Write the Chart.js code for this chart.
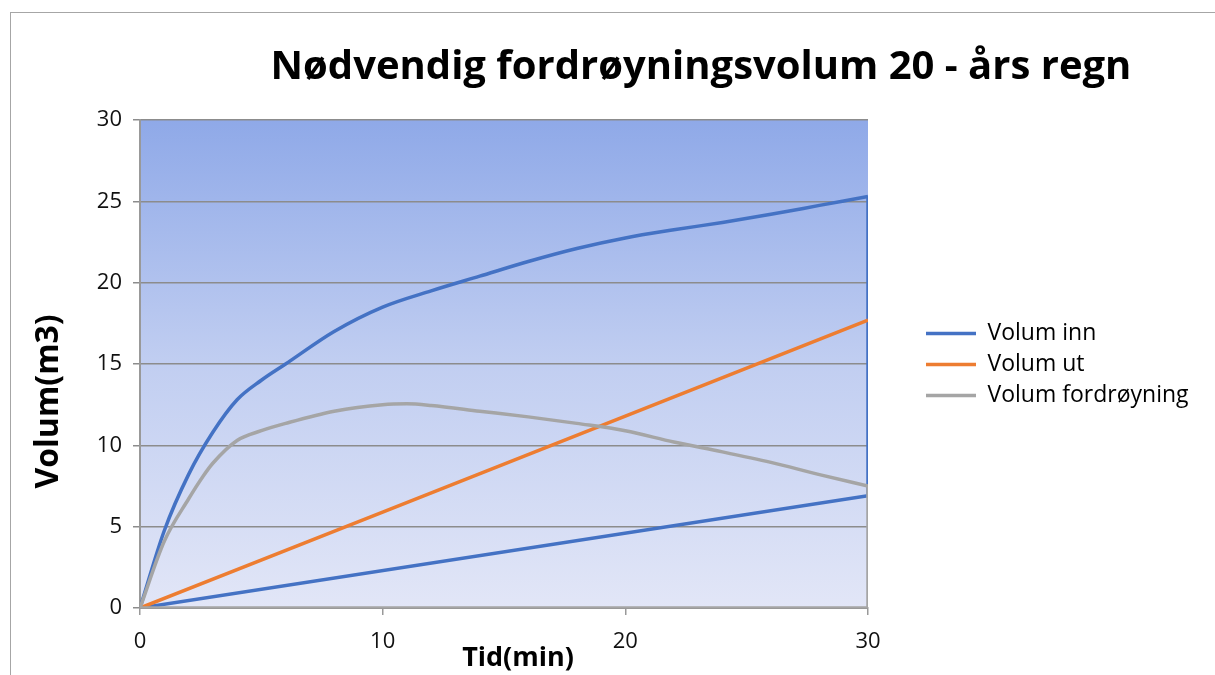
<!DOCTYPE html>
<html>
<head>
<meta charset="utf-8">
<script src="https://cdn.jsdelivr.net/npm/chart.js@4.4.1/dist/chart.umd.min.js"></script>
<style>
  body { margin: 0; background: #fff; }
  #wrap { position: relative; width: 1215px; height: 675px; overflow: hidden; }
  #frame { position: absolute; left: 10px; top: 12px; right: -5px; bottom: -5px;
           border-left: 1px solid #a6a6a6; border-top: 1px solid #a6a6a6; }
  #title { position: absolute; left: 186px; width: 1030px; top: 37px; text-align: center;
           font: bold 40px "Open Sans", sans-serif; line-height: 54px; color: #000; white-space: nowrap; }
  canvas { position: absolute; left: 0; top: 0; }
</style>
</head>
<body>
<div id="wrap">
  <div id="frame"></div>
  <canvas id="chart" width="1215" height="675"></canvas>
  <div id="title">Nødvendig fordrøyningsvolum 20 - års regn</div>
</div>
<script>
var seriesNames = ['Volum inn', 'Volum ut', 'Volum fordrøyning'];
var seriesColors = ['#4472C4', '#ED7D31', '#A5A5A5'];

// tid (min) og volum (m3) lest av figuren
var innT = [0, 1, 2, 3, 4, 5, 6, 8, 10, 12, 14, 16, 18, 20, 22, 24, 26, 28, 30];
var innV = [0, 4.75, 8.2, 10.8, 12.8, 14.0, 15.0, 17.0, 18.5, 19.5, 20.4, 21.3, 22.1, 22.75, 23.25, 23.7, 24.2, 24.75, 25.3];
// Volum inn lukker seg tilbake til origo
var innBackT = [30, 30, 0];
var innBackV = [25.3, 6.9, 0];

var utT = [0, 10, 20, 30];
var utV = [0, 5.9, 11.8, 17.7];

var fordT = [0, 1, 2, 2.6, 3, 4, 5, 6, 8, 10, 11, 12, 14, 16, 18, 20, 22, 24, 26, 28, 30];
var fordV = [0, 4.1, 6.7, 8.1, 8.9, 10.3, 10.9, 11.35, 12.1, 12.5, 12.55, 12.45, 12.1, 11.75, 11.35, 10.9, 10.2, 9.6, 8.95, 8.2, 7.5];
var fordBackT = [30, 30, 0];
var fordBackV = [7.5, 0, 0];

var xTicks = [0, 10, 20, 30];
var yTicks = [0, 5, 10, 15, 20, 25, 30];

function pts(ts, vs) { return ts.map((t, i) => ({ x: t, y: vs[i] })); }

var plotBg = {
    id: 'plotBg',
    beforeDraw(chart) {
        var a = chart.chartArea, c = chart.ctx;
        var g = c.createLinearGradient(0, a.top, 0, a.bottom);
        g.addColorStop(0, '#8FA9E8');
        g.addColorStop(0.5, '#C1CEF1');
        g.addColorStop(1, '#E2E6F7');
        c.save();
        c.fillStyle = g;
        c.fillRect(a.left, a.top, a.right - a.left, a.bottom - a.top);
        c.restore();
    }
};

var legendPlace = {
    id: 'legendPlace',
    beforeInit(chart) {
        var fit = chart.legend.fit;
        chart.legend.fit = function () { fit.call(this); this.width = 347; };
    },
    afterLayout(chart) {
        var lg = chart.legend;
        lg.left += 50; lg.right += 50;
        lg.top -= 33; lg.bottom -= 33;
    }
};

var lineBase = { showLine: true, pointRadius: 0, borderWidth: 3.5, fill: false };
var font = 'Open Sans';

var ctx = document.getElementById('chart').getContext('2d');
var chart = new Chart(ctx, {
    type: 'scatter',
    data: {
        datasets: [
            Object.assign({ label: seriesNames[0], data: pts(innT, innV), borderColor: seriesColors[0], backgroundColor: seriesColors[0], cubicInterpolationMode: 'monotone', order: 2 }, lineBase),
            Object.assign({ label: seriesNames[1], data: pts(utT, utV), borderColor: seriesColors[1], backgroundColor: seriesColors[1], order: 1 }, lineBase),
            Object.assign({ label: seriesNames[2], data: pts(fordT, fordV), borderColor: seriesColors[2], backgroundColor: seriesColors[2], cubicInterpolationMode: 'monotone', order: 0 }, lineBase),
            Object.assign({ label: 'inn-retur', data: pts(innBackT, innBackV), borderColor: seriesColors[0], order: 2 }, lineBase),
            Object.assign({ label: 'ford-retur', data: pts(fordBackT, fordBackV), borderColor: seriesColors[2], order: 0 }, lineBase)
        ]
    },
    options: {
        responsive: false,
        animation: false,
        layout: { padding: { top: 120, left: 30, right: 0, bottom: 0 } },
        plugins: {
            title: { display: false },
            tooltip: { enabled: false },
            legend: {
                position: 'right',
                labels: {
                    boxWidth: 50,
                    boxHeight: 3.5,
                    padding: 8,
                    color: '#000',
                    font: { family: font, size: 23 },
                    generateLabels: () => seriesNames.map((n, i) => ({
                        text: n, fillStyle: seriesColors[i], strokeStyle: seriesColors[i],
                        lineWidth: 0, datasetIndex: i, hidden: false, fontColor: '#000'
                    }))
                }
            }
        },
        scales: {
            x: {
                type: 'linear', min: 0, max: 30,
                afterBuildTicks: s => { s.ticks = xTicks.map(v => ({ value: v })); },
                afterFit: s => { s.height = 67; },
                ticks: { color: '#111', padding: 14, font: { family: font, size: 22 } },
                grid: { drawOnChartArea: false, tickLength: 7, color: '#999', lineWidth: 1.5 },
                border: { color: '#999', width: 2 },
                title: { display: true, text: '    Tid(min)', color: '#000', padding: 0,
                         font: { family: font, size: 27, weight: 'bold' } }
            },
            y: {
                min: 0, max: 30,
                afterBuildTicks: s => { s.ticks = yTicks.map(v => ({ value: v })); },
                afterFit: s => { s.width = 110; },
                ticks: { color: '#111', padding: 11, font: { family: font, size: 22 } },
                grid: { color: '#8C8C8C', lineWidth: 1.5, tickLength: 7 },
                border: { color: '#999', width: 2 },
                title: { display: true, text: 'Volum(m3)         ', color: '#000', padding: 0,
                         font: { family: font, size: 32, weight: 'bold' } }
            }
        }
    },
    plugins: [plotBg, legendPlace]
});
</script>
</body>
</html>
